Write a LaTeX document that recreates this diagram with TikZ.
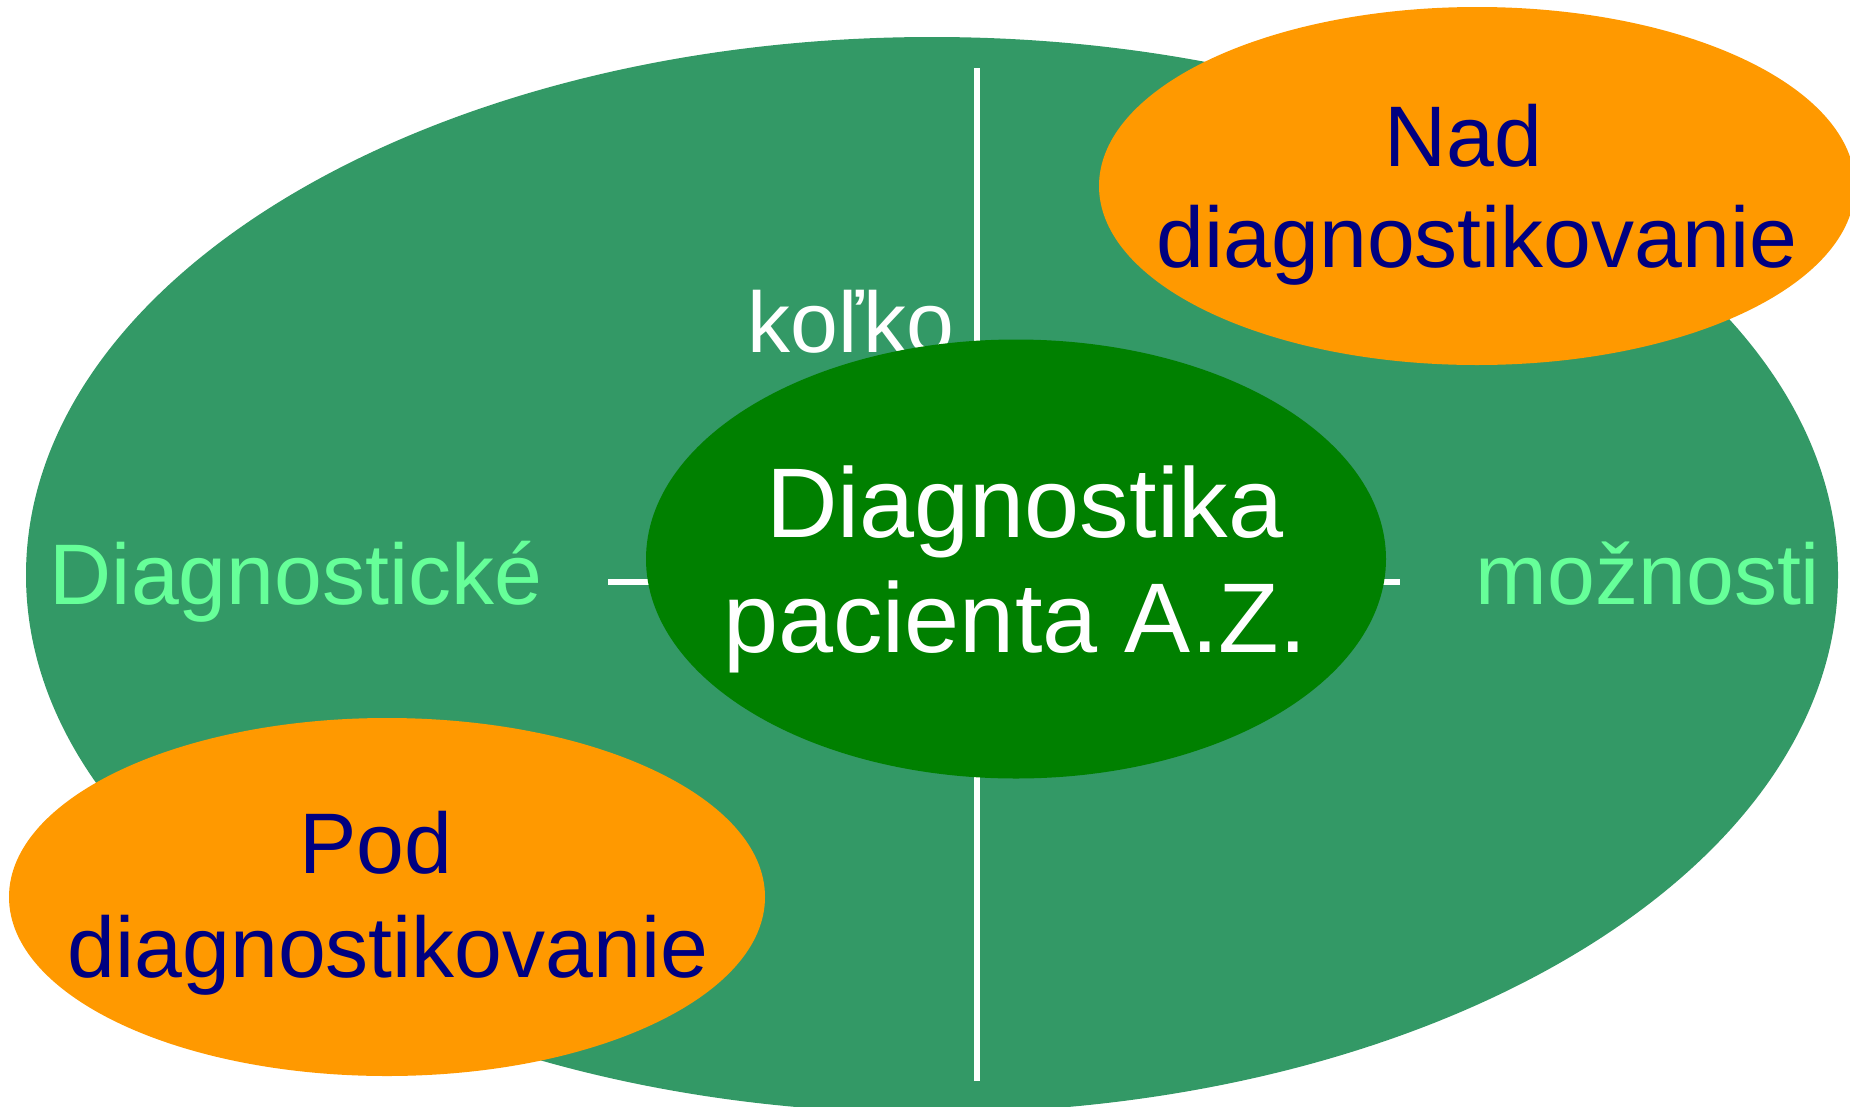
\documentclass[tikz,border=0pt]{standalone}
\usepackage{fontspec}
\setmainfont{Liberation Sans}
\usetikzlibrary{shapes.geometric}
\definecolor{bigGreen}{HTML}{339966}
\definecolor{darkGreen}{HTML}{008000}
\definecolor{orangeFill}{HTML}{FF9900}
\definecolor{navyText}{HTML}{000080}
\definecolor{lightGreenText}{HTML}{66FF99}
\begin{document}
\begin{tikzpicture}[x=1pt,y=-1pt,
  blob/.style={ellipse, inner sep=0pt, draw=none},
  sepline/.style={draw=white, line width=5.5pt},
  lbl/.style={anchor=base, inner sep=0pt},
  sidefont/.style={font=\fontsize{86}{100}\selectfont},
  midfont/.style={font=\fontsize{99}{115}\selectfont},
  orfont/.style={font=\fontsize{86}{100}\selectfont}]
\useasboundingbox (0,0) rectangle (1850,1106);
\clip (0,0) rectangle (1850,1106);
% outer ellipse
\node[blob, fill=bigGreen, minimum width=1812pt, minimum height=1076pt] (outer) at (932,575) {};
% separator lines
\coordinate (vtop) at (977,68);
\coordinate (vbot) at (977,1081);
\coordinate (hleft) at (608,582);
\coordinate (hright) at (1400,582);
\draw[sepline] (vtop) -- (vbot);
\draw[sepline] (hleft) -- (hright);
% side labels
\node[lbl, sidefont, text=white] (kolko) at (851,352) {koľko};
\node[lbl, sidefont, text=lightGreenText] (diagn) at (296,604) {Diagnostické};
\node[lbl, sidefont, text=lightGreenText] (moznosti) at (1648,604) {možnosti};
% central ellipse
\node[blob, fill=darkGreen, minimum width=740pt, minimum height=439pt] (center) at (1016,559) {};
\node[lbl, midfont, text=white] (centerA) at (1025,537) {Diagnostika};
\node[lbl, midfont, text=white] (centerB) at (1015,652) {pacienta A.Z.};
% orange ellipses
\node[blob, fill=orangeFill, minimum width=756pt, minimum height=358pt] (over) at (1477,186) {};
\node[lbl, orfont, text=navyText] (overA) at (1463,166) {Nad};
\node[lbl, orfont, text=navyText] (overB) at (1477,267) {diagnostikovanie};
\node[blob, fill=orangeFill, minimum width=756pt, minimum height=358pt] (under) at (387,897) {};
\node[lbl, orfont, text=navyText] (underA) at (376,873) {Pod};
\node[lbl, orfont, text=navyText] (underB) at (388,977) {diagnostikovanie};
\end{tikzpicture}
\end{document}
